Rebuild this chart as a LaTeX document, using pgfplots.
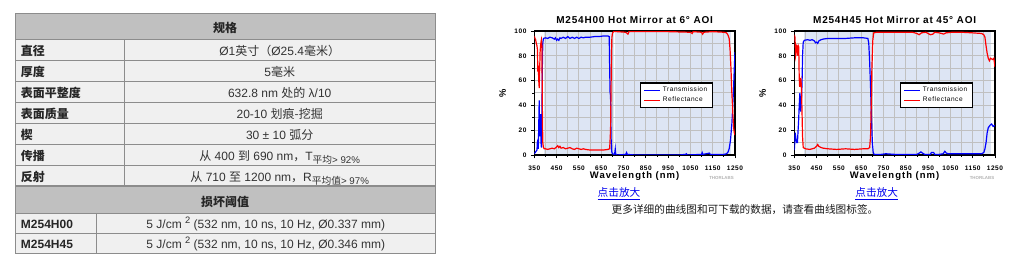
\documentclass[border=0pt]{standalone}
\usepackage{fontspec}
\setmainfont{Liberation Sans}
\newfontfamily\cjk{Noto Sans CJK SC}
\newfontfamily\chf{Liberation Sans}[LetterSpace=8]
\newfontfamily\chfx{Liberation Sans}[LetterSpace=11]
\usepackage{pgfplots}
\pgfplotsset{compat=1.18}
\newcommand\fs[1]{\fontsize{#1}{#1}\selectfont}
\definecolor{hdr}{RGB}{192,192,192}
\definecolor{rowbg}{RGB}{240,240,240}
\definecolor{bord}{RGB}{140,140,140}
\definecolor{tx}{RGB}{51,51,51}
\definecolor{gridc}{RGB}{192,192,192}
\definecolor{shade}{RGB}{221,229,244}
\definecolor{linkc}{RGB}{0,0,238}

\pgfplotstableread{
x y
350 1
354 2
358 3
362 4
364 11
366 12
368 5
370 25
372 44
374 15
376 30
378 33
380 10
382 6
384 30
386 70
388 90
391 94
400 94.5
410 94
420 95
430 94.5
440 93.5
445 94.5
450 92.5
455 93.5
460 92.5
465 94.5
470 94
480 95
490 94
500 95.5
510 94
520 95
530 94
540 95
550 94
560 95
570 94.5
580 95
600 95
620 95.5
640 95.5
660 96
680 96
686 95.5
688 70
690 50
692 48
694 15
697 3
700 1
710 0.5
713 5
715 1
720 0
760 0.5
764 2
767 0.5
800 0
900 0
1000 0
1028 0.5
1032 1
1036 0
1100 0.5
1103 2
1106 0.5
1135 1.5
1140 0.5
1200 0.5
1212 1
1218 2
1224 5
1230 12
1236 25
1240 40
1244 55
1247 70
1250 83
}\Tsix

\pgfplotstableread{
x y
350 96
353 94
356 93
359 90
362 88
364 85
366 67
368 72
370 60
372 54
374 68
376 83
378 88
380 91
382 93
384 90
386 40
388 10
391 6
395 5
400 5
410 4.5
420 5
430 5.5
440 5
450 6.5
455 7.5
460 6
465 7
470 5.5
480 6
490 5
500 5.5
510 6
520 5
530 4.5
540 5.5
550 5
560 4.5
570 5
580 4.5
600 4
620 4
640 4
660 4
680 4.5
688 5
692 20
694 50
696 80
698 95
701 98.5
706 99.5
720 99.5
760 99
770 97.5
775 99.5
850 99.5
950 99.5
1050 99
1058 98
1062 99.5
1100 99
1105 97.5
1110 99
1150 99.5
1200 99
1212 98.5
1218 97
1224 94
1228 85
1232 70
1236 50
1240 35
1244 22
1247 18
1250 16
}\Rsix

\pgfplotstableread{
x y
350 4
352 10
354 18
356 15
358 12
361 10
364 10
367 20
369 26
372 40
375 50
377 38
379 35
381 45
383 48
385 60
387 80
390 91
395 92.5
410 93
420 92.5
430 93
440 92
445 90.5
450 91
455 90
460 92
470 93
480 93.5
500 94
540 94
580 94
620 94.5
660 94.5
680 94
684 90
688 75
692 55
696 30
700 10
704 2
708 0.5
740 0.5
760 1
800 0.5
900 0.5
910 1.5
918 2.5
925 1.5
935 0.5
960 0.5
965 2
975 2
980 0.5
1000 0.5
1018 1
1025 3
1032 1.5
1040 1
1100 1
1190 1
1200 2
1205 5
1210 10
1215 18
1220 22
1228 24
1235 25
1242 23
1250 24
}\Tff

\pgfplotstableread{
x y
350 97
353 95
356 80
358 82
361 88
364 87
366 80
368 88
370 87
372 62
374 55
376 62
378 58
380 60
382 55
384 40
387 15
390 6
400 5
420 4.5
440 5.5
450 7
455 8.5
460 7
470 6
480 5.5
500 5
540 4.5
580 5
620 4.5
660 5
680 5
688 6
692 15
695 40
698 70
702 92
706 98.5
720 99
800 99
880 99
900 98
910 97
920 98.5
940 99
960 97
972 97.5
980 99
1000 98.5
1020 97.5
1030 98.5
1060 99
1100 99
1150 98.5
1190 98
1200 97
1205 95
1210 88
1215 82
1220 78
1225 76
1230 78
1240 77
1245 78
1250 71
}\Rff

\pgfplotsset{hm/.style={
  scale only axis, width=150.5pt, height=93pt,
  xmin=350, xmax=1250, ymin=0, ymax=100,
  set layers,
  xtick={350,450,...,1250}, minor xtick={400,500,...,1200},
  ytick={0,20,...,100}, minor ytick={10,30,...,90},
  grid=both,
  major grid style={draw=gridc, line width=0.75pt},
  minor grid style={draw=gridc, line width=0.75pt},
  tick align=outside, tick pos=left,
  major tick length=2.5pt, minor tick length=1.5pt,
  tick style={black, line width=0.6pt},
  axis line style={black, line width=0.9pt},
  /pgf/number format/assume math mode=true,
  /pgf/number format/1000 sep={},
  tick label style={font=\chf\bfseries\fs{4.9pt}, inner sep=0pt},
  xticklabel style={anchor=base, yshift=-8.8pt},
  yticklabel style={anchor=east, xshift=-3.2pt},
  every axis title/.style={font=\chf\bfseries\fs{7.5pt}, at={(0.5,1)}, anchor=base, yshift=5.25pt},
  every axis x label/.style={font=\chfx\bfseries\fs{7.1pt}, at={(0.5,0)}, anchor=base, yshift=-18pt},
  every axis y label/.style={font=\chf\bfseries\fs{7pt}, at={(0,0.5)}, xshift=-23.7pt, rotate=90, anchor=center},
  xlabel={Wavelength (nm)}, ylabel={\%},
  legend style={at={(0.527,0.586)}, anchor=north west, draw=black, line width=0.9pt, fill=white,
    font=\chf\fs{4.9pt}, inner xsep=2pt, inner ysep=1pt, row sep=-1.5pt, cells={anchor=west}},
  legend image code/.code={\draw[#1, line width=0.9pt] (0pt,0pt) -- (11.8pt,0pt);},
  no markers,
  every axis plot/.append style={line width=0.9pt},
}}

\begin{document}
\begin{tikzpicture}[x=0.75pt, y=0.75pt]
\path (0,0) rectangle (1018,264);

\begin{scope}[yshift=198pt, y=-0.75pt]
% table backgrounds
\fill[rowbg] (15.3,13.3) rectangle (435,254);
\fill[hdr] (15.3,13.3) rectangle (435,39.3);
\fill[hdr] (15.3,186.3) rectangle (435,213.3);
\begin{scope}[draw=bord, line width=0.75pt]
\foreach \yy in {39.3,60.3,81.3,102.3,123.3,144.3,165.3,213.3,233.3}
  \draw (15.3,\yy) -- (435,\yy);
\draw[line width=1.5pt] (15.3,186.3) -- (435,186.3);
\draw (124.3,39.3) -- (124.3,186.3);
\draw (96.7,213.3) -- (96.7,254);
\draw (15.3,13.3) rectangle (435,254);
\end{scope}
\tikzset{lab/.style={anchor=base west, inner sep=0pt, font=\cjk\bfseries\fs{9pt}, text=black!85},
         val/.style={anchor=base, inner sep=0pt, font=\fs{9pt}, text=tx}}
\node[anchor=base, inner sep=0pt, font=\cjk\bfseries\fs{9pt}, text=black!85] at (225,32.8) {规格};
\node[lab] at (20.7,55.3) {直径};
\node[lab] at (20.7,76.3) {厚度};
\node[lab] at (20.7,97.3) {表面平整度};
\node[lab] at (20.7,118.3) {表面质量};
\node[lab] at (20.7,139.3) {楔};
\node[lab] at (20.7,160.3) {传播};
\node[lab] at (20.7,181.3) {反射};
\node[val] at (279.7,55.3) {Ø1{\cjk 英寸（}Ø25.4{\cjk 毫米）}};
\node[val] at (279.7,76.3) {5{\cjk 毫米}};
\node[val] at (279.7,97.3) {632.8 nm {\cjk 处的} λ/10};
\node[val] at (279.7,118.3) {20-10 {\cjk 划痕-挖掘}};
\node[val] at (279.7,139.3) {30 ± 10 {\cjk 弧分}};
\node[val] at (279.7,160.3) {{\cjk 从} 400 {\cjk 到} 690 nm{\cjk ，}T\raisebox{-2.2pt}{\fs{7.3pt}{\cjk 平均}> 92\%}};
\node[val] at (279.7,181.3) {{\cjk 从} 710 {\cjk 至} 1200 nm{\cjk ，}R\raisebox{-2.2pt}{\fs{7.3pt}{\cjk 平均值}> 97\%}};
\node[anchor=base, inner sep=0pt, font=\cjk\bfseries\fs{9pt}, text=black!85] at (225,206.3) {损坏阈值};
\node[anchor=base west, inner sep=0pt, font=\bfseries\fs{9pt}, text=black!85] at (20.7,228.5) {M254H00};
\node[anchor=base west, inner sep=0pt, font=\bfseries\fs{9pt}, text=black!85] at (20.7,249) {M254H45};
\node[val] at (265.8,228.5) {5 J/cm \raisebox{3.8pt}{\fs{7pt}2} (532 nm, 10 ns, 10 Hz, Ø0.337 mm)};
\node[val] at (265.8,249) {5 J/cm \raisebox{3.8pt}{\fs{7pt}2} (532 nm, 10 ns, 10 Hz, Ø0.346 mm)};

% links and note
\node[anchor=base, inner sep=0pt, font=\cjk\fs{8pt}, text=linkc] at (619,196.5) {\underline{点击放大}};
\node[anchor=base, inner sep=0pt, font=\cjk\fs{8pt}, text=linkc] at (876.7,196.5) {\underline{点击放大}};
\node[anchor=base, inner sep=0pt, font=\cjk\fs{8pt}, text=black!90] at (745,214) {更多详细的曲线图和可下载的数据，请查看曲线图标签。};
\node[anchor=center, inner sep=0pt, font=\bfseries\fs{3.3pt}, text=black!30] at (721.5,177.5) {THORLABS};
\node[anchor=center, inner sep=0pt, font=\bfseries\fs{3.3pt}, text=black!30] at (982,177.5) {THORLABS};
\end{scope}

\begin{axis}[hm, at={(400.725pt,81.75pt)}, anchor=south west,
  title={M254H00 Hot Mirror at 6° AOI}]
\addplot[fill=shade, draw=none, forget plot, on layer=axis background] coordinates {(395,100) (706,100)} \closedcycle;
\addplot[fill=shade, draw=none, forget plot, on layer=axis background] coordinates {(714,100) (1230,100)} \closedcycle;
\addplot[blue] table[x=x,y=y] {\Tsix};
\addplot[red] table[x=x,y=y] {\Rsix};
\legend{Transmission, Reflectance}
\end{axis}

\begin{axis}[hm, at={(595.725pt,81.75pt)}, anchor=south west,
  title={M254H45 Hot Mirror at 45° AOI}]
\addplot[fill=shade, draw=none, forget plot, on layer=axis background] coordinates {(395,100) (700,100)} \closedcycle;
\addplot[fill=shade, draw=none, forget plot, on layer=axis background] coordinates {(708,100) (1230,100)} \closedcycle;
\addplot[blue] table[x=x,y=y] {\Tff};
\addplot[red] table[x=x,y=y] {\Rff};
\legend{Transmission, Reflectance}
\end{axis}
\pgfresetboundingbox
\useasboundingbox (0,0) rectangle (1018,264);
\end{tikzpicture}
\end{document}
